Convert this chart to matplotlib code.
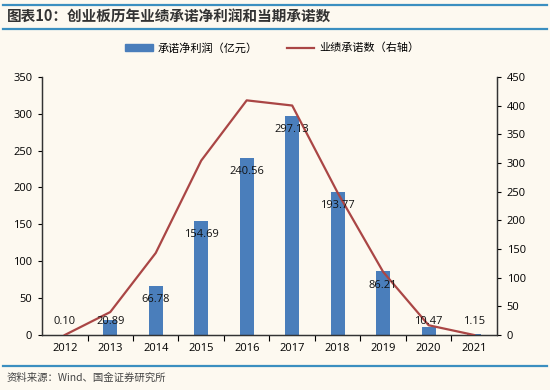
import matplotlib
matplotlib.use('Agg')
import matplotlib.pyplot as plt
from matplotlib.lines import Line2D
from matplotlib.patches import Patch

plt.rcParams['font.family'] = ['Noto Sans CJK SC', 'DejaVu Sans']

# data
years = ['2012', '2013', '2014', '2015', '2016', '2017', '2018', '2019', '2020', '2021']
profit = [0.10, 20.89, 66.78, 154.69, 240.56, 297.13, 193.77, 86.21, 10.47, 1.15]
commit_count = [0, 40, 143, 304, 409, 400, 248, 110, 17, 0]

bg = '#fdf9f0'
bar_color = '#4a7ebb'
line_color = '#aa4645'
rule_color = '#3b8fc0'

fig = plt.figure(figsize=(5.5, 3.9), dpi=100, facecolor=bg)
ax = fig.add_axes([0.0764, 0.141, 0.827, 0.662])
ax.set_facecolor(bg)
ax2 = ax.twinx()
ax2.patch.set_visible(False)

x = list(range(len(years)))
ax.bar(x, profit, width=0.31, color=bar_color, zorder=2)
ax2.plot(x, commit_count, color=line_color, linewidth=1.6, zorder=3)

# data labels: inside the top of the bar, or above small bars (drawn over the line)
for xi, v in zip(x, profit):
    ax2.annotate(f'{v:.2f}', (xi, max(v, 37)), xycoords=ax.transData,
                 xytext=(0, -10), textcoords='offset points',
                 ha='center', va='center', fontsize=8, family='Open Sans',
                 color='#111111', zorder=4)

ax.set_xlim(-0.5, len(years) - 0.5)
ax.set_ylim(0, 350)
ax2.set_ylim(0, 450)
ax.set_yticks(range(0, 351, 50))
ax2.set_yticks(range(0, 451, 50))
ax.set_xticks(x)
ax.set_xticklabels(years)
ax.set_xticks([i + 0.5 for i in x[:-1]], minor=True)
ax.tick_params(axis='x', which='major', length=0, pad=6, labelsize=8)
ax.tick_params(axis='x', which='minor', length=4, width=0.8, direction='out')
ax.tick_params(axis='y', length=3, width=0.8, labelsize=8, pad=4)
ax2.tick_params(axis='y', length=3, width=0.8, labelsize=8, pad=4)
for a in (ax, ax2):
    for lbl in a.get_xticklabels() + a.get_yticklabels():
        lbl.set_family('Open Sans')
    a.spines['top'].set_visible(False)
    for s in ('left', 'right', 'bottom'):
        a.spines[s].set_color('#333333')
        a.spines[s].set_linewidth(0.9)

handles = [Patch(color=bar_color), Line2D([0], [0], color=line_color, linewidth=1.6)]
fig.legend(handles, ['承诺净利润（亿元）', '业绩承诺数（右轴）'], loc='center',
           bbox_to_anchor=(0.495, 0.877), ncol=2, frameon=False, fontsize=8,
           handlelength=2.5, handleheight=0.5, columnspacing=2.6, handletextpad=0.4)

# header and footer
for yy in (1 - 5 / 390, 1 - 29 / 390, 1 - 366 / 390):
    fig.add_artist(Line2D([0.005, 0.995], [yy, yy], color=rule_color, linewidth=1.6))
fig.text(0.012, 1 - 17 / 390, '图表10：创业板历年业绩承诺净利润和当期承诺数', fontsize=10.5,
         fontweight='bold', color='#333333', va='center', ha='left')
fig.text(0.012, 1 - 378 / 390, '资料来源：Wind、国金证券研究所', fontsize=7.5,
         color='#444444', va='center', ha='left')

fig.savefig('out.png', dpi=100, facecolor=bg)
